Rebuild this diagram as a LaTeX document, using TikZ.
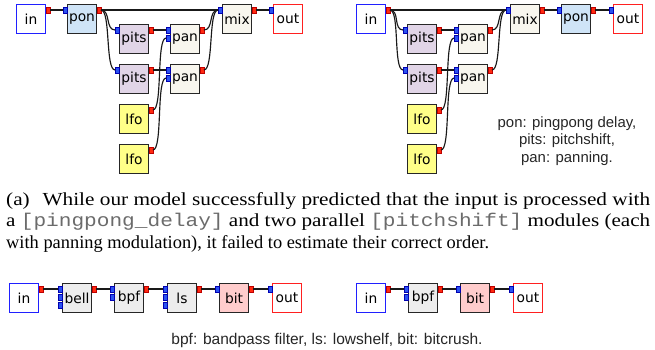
\documentclass[tikz,border=0pt]{standalone}
\usepackage{fontspec}
\usepackage{graphicx}
\setmainfont{Liberation Serif}
\newfontfamily\boxfont{DejaVu Sans}
\newfontfamily\legfont{Liberation Sans}
\newfontfamily\capmono{Liberation Mono}
\definecolor{ponfill}{HTML}{CFE4F7}
\definecolor{pitsfill}{HTML}{E1D5E7}
\definecolor{panfill}{HTML}{F8F6EE}
\definecolor{lfofill}{HTML}{FFFF88}
\definecolor{grayfill}{HTML}{EDEDED}
\definecolor{bitfill}{HTML}{FFCCCC}
\definecolor{inblue}{HTML}{2020FF}
\definecolor{outred}{HTML}{FF2020}
\definecolor{portblue}{HTML}{2A52F0}
\definecolor{portred}{HTML}{FF2A10}
\tikzset{
  modst/.style={draw=black!85, line width=1.2pt, minimum width=28.8pt, minimum height=28.8pt,
    inner sep=0pt, font=\boxfont\fontsize{13.8}{15}\selectfont},
  inst/.style={modst, draw=inblue, fill=white},
  outst/.style={modst, draw=outred, fill=white},
  iport/.style={draw=blue!70!black, line width=0.4pt, fill=portblue, minimum width=3.7pt, minimum height=5.4pt, inner sep=0pt},
  oport/.style={draw=red!75!black, line width=0.4pt, fill=portred, minimum width=3.7pt, minimum height=5.4pt, inner sep=0pt},
  wirest/.style={draw=black!90, line width=1.15pt},
  capst/.style={anchor=base west, inner sep=0pt, font=\fontsize{18.4}{21}\selectfont},
}
\newcommand\modbox[5]{\node[modst,#4] (#1) at (#2+15,#3+15) {#5};}
\newcommand\inp[4]{\node[iport] (#1) at (#2-1.85,#3+6+8*#4) {};}
\newcommand\outp[3]{\node[oport] (#1) at (#2+31.85,#3+6) {};}
\newcommand\wire[2]{\draw[wirest] (#1.east) .. controls +(10,0) and +(-10,0) .. (#2.west);}
\begin{document}
\begin{tikzpicture}[x=1pt,y=-1pt]
\useasboundingbox (0,0) rectangle (655,349);
% ---------- top left ----------
\modbox{aIn}{16}{4}{inst}{in}
\modbox{aPon}{67}{4}{fill=ponfill}{pon}
\modbox{aPitsA}{119}{24}{fill=pitsfill}{pits}
\modbox{aPitsB}{119}{64}{fill=pitsfill}{pits}
\modbox{aLfoA}{119}{104}{fill=lfofill}{lfo}
\modbox{aLfoB}{119}{144}{fill=lfofill}{lfo}
\modbox{aPanA}{170}{24}{fill=panfill}{pan}
\modbox{aPanB}{170}{64}{fill=panfill}{pan}
\modbox{aMix}{222}{4}{fill=panfill}{mix}
\modbox{aOut}{273}{4}{outst}{out}
\outp{aIn-o}{16}{4}
\inp{aPon-i}{67}{4}{0}\outp{aPon-o}{67}{4}
\inp{aPitsA-i}{119}{24}{0}\outp{aPitsA-o}{119}{24}
\inp{aPitsB-i}{119}{64}{0}\outp{aPitsB-o}{119}{64}
\outp{aLfoA-o}{119}{104}
\outp{aLfoB-o}{119}{144}
\inp{aPanA-i1}{170}{24}{0}\inp{aPanA-i2}{170}{24}{1}\outp{aPanA-o}{170}{24}
\inp{aPanB-i1}{170}{64}{0}\inp{aPanB-i2}{170}{64}{1}\outp{aPanB-o}{170}{64}
\inp{aMix-i}{222}{4}{0}\outp{aMix-o}{222}{4}
\inp{aOut-i}{273}{4}{0}
\wire{aIn-o}{aPon-i}
\wire{aPon-o}{aMix-i}
\wire{aPon-o}{aPitsA-i}
\wire{aPon-o}{aPitsB-i}
\wire{aPitsA-o}{aPanA-i1}
\wire{aPitsB-o}{aPanB-i1}
\wire{aLfoA-o}{aPanA-i2}
\wire{aLfoB-o}{aPanB-i2}
\wire{aPanA-o}{aMix-i}
\wire{aPanB-o}{aMix-i}
\wire{aMix-o}{aOut-i}
% ---------- top right ----------
\modbox{bIn}{356}{4}{inst}{in}
\modbox{bPitsA}{407}{24}{fill=pitsfill}{pits}
\modbox{bPitsB}{407}{64}{fill=pitsfill}{pits}
\modbox{bLfoA}{407}{104}{fill=lfofill}{lfo}
\modbox{bLfoB}{407}{144}{fill=lfofill}{lfo}
\modbox{bPanA}{458}{24}{fill=panfill}{pan}
\modbox{bPanB}{458}{64}{fill=panfill}{pan}
\modbox{bMix}{510}{4}{fill=panfill}{mix}
\modbox{bPon}{561}{4}{fill=ponfill}{pon}
\modbox{bOut}{613}{4}{outst}{out}
\outp{bIn-o}{356}{4}
\inp{bPitsA-i}{407}{24}{0}\outp{bPitsA-o}{407}{24}
\inp{bPitsB-i}{407}{64}{0}\outp{bPitsB-o}{407}{64}
\outp{bLfoA-o}{407}{104}
\outp{bLfoB-o}{407}{144}
\inp{bPanA-i1}{458}{24}{0}\inp{bPanA-i2}{458}{24}{1}\outp{bPanA-o}{458}{24}
\inp{bPanB-i1}{458}{64}{0}\inp{bPanB-i2}{458}{64}{1}\outp{bPanB-o}{458}{64}
\inp{bMix-i}{510}{4}{0}\outp{bMix-o}{510}{4}
\inp{bPon-i}{561}{4}{0}\outp{bPon-o}{561}{4}
\inp{bOut-i}{613}{4}{0}
\wire{bIn-o}{bMix-i}
\wire{bIn-o}{bPitsA-i}
\wire{bIn-o}{bPitsB-i}
\wire{bPitsA-o}{bPanA-i1}
\wire{bPitsB-o}{bPanB-i1}
\wire{bLfoA-o}{bPanA-i2}
\wire{bLfoB-o}{bPanB-i2}
\wire{bPanA-o}{bMix-i}
\wire{bPanB-o}{bMix-i}
\wire{bMix-o}{bPon-i}
\wire{bPon-o}{bOut-i}
\node[font=\legfont\fontsize{14.9}{17.5}\selectfont, align=center, text=black!85] (bLeg) at (567,141)
  {pon: pingpong delay,\\pits: pitchshift,\\pan: panning.};
% ---------- caption ----------
\node[capst] (capA) at (6,205)
  {\resizebox{644pt}{\height}{(a)\hspace{0.6em}While our model successfully predicted that the input is processed with}};
\node[capst] (capB) at (6,226.5)
  {\resizebox{644pt}{\height}{a {\capmono\color{black!58}[pingpong\_delay]} and two parallel {\capmono\color{black!58}[pitchshift]} modules (each}};
\node[capst] (capC) at (6,248)
  {with panning modulation), it failed to estimate their correct order.};
% ---------- bottom left ----------
\modbox{cIn}{9}{283}{inst}{in}
\modbox{cBell}{62}{283}{fill=grayfill}{bell}
\modbox{cBpf}{114}{283}{fill=grayfill}{bpf}
\modbox{cLs}{167}{283}{fill=grayfill}{ls}
\modbox{cBit}{219}{283}{fill=bitfill}{bit}
\modbox{cOut}{272}{283}{outst}{out}
\outp{cIn-o}{9}{283}
\inp{cBell-i1}{62}{283}{0}\inp{cBell-i2}{62}{283}{1}\inp{cBell-i3}{62}{283}{2}\outp{cBell-o}{62}{283}
\inp{cBpf-i1}{114}{283}{0}\inp{cBpf-i2}{114}{283}{1}\outp{cBpf-o}{114}{283}
\inp{cLs-i1}{167}{283}{0}\inp{cLs-i2}{167}{283}{1}\inp{cLs-i3}{167}{283}{2}\outp{cLs-o}{167}{283}
\inp{cBit-i}{219}{283}{0}\outp{cBit-o}{219}{283}
\inp{cOut-i}{272}{283}{0}
\wire{cIn-o}{cBell-i1}
\wire{cBell-o}{cBpf-i1}
\wire{cBpf-o}{cLs-i1}
\wire{cLs-o}{cBit-i}
\wire{cBit-o}{cOut-i}
% ---------- bottom right ----------
\modbox{dIn}{356}{283}{inst}{in}
\modbox{dBpf}{408}{283}{fill=grayfill}{bpf}
\modbox{dBit}{460}{283}{fill=bitfill}{bit}
\modbox{dOut}{513}{283}{outst}{out}
\outp{dIn-o}{356}{283}
\inp{dBpf-i1}{408}{283}{0}\inp{dBpf-i2}{408}{283}{1}\outp{dBpf-o}{408}{283}
\inp{dBit-i}{460}{283}{0}\outp{dBit-o}{460}{283}
\inp{dOut-i}{513}{283}{0}
\wire{dIn-o}{dBpf-i1}
\wire{dBpf-o}{dBit-i}
\wire{dBit-o}{dOut-i}
\node[font=\legfont\fontsize{15.5}{17.5}\selectfont, text=black!85] (cLeg) at (327,340)
  {bpf: bandpass filter, ls: lowshelf, bit: bitcrush.};
\end{tikzpicture}
\end{document}
